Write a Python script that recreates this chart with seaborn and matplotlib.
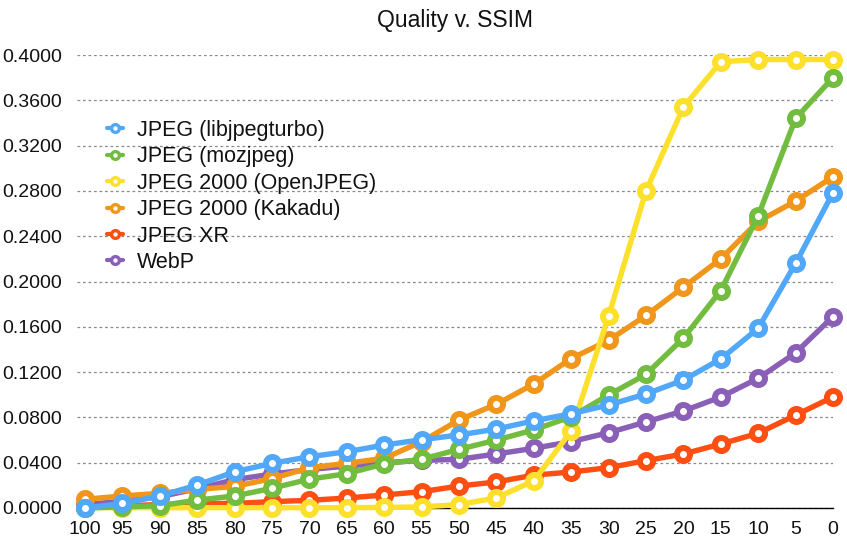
import matplotlib
matplotlib.use("Agg")
import matplotlib.pyplot as plt
import seaborn as sns
import pandas as pd
from matplotlib.lines import Line2D
from matplotlib.ticker import FormatStrFormatter

quality = [100, 95, 90, 85, 80, 75, 70, 65, 60, 55, 50, 45, 40, 35, 30, 25, 20, 15, 10, 5, 0]

libjpegturbo = [0.0, 0.004, 0.0106, 0.0203, 0.032, 0.0394, 0.0453, 0.0497, 0.0556, 0.0603, 0.0645,
                0.0697, 0.077, 0.0832, 0.091, 0.1007, 0.113, 0.1316, 0.1587, 0.216, 0.2784]
mozjpeg = [0.0, 0.001, 0.002, 0.007, 0.0106, 0.0174, 0.0255, 0.0303, 0.039, 0.043, 0.0518,
           0.060, 0.069, 0.0806, 0.0998, 0.118, 0.150, 0.192, 0.258, 0.344, 0.380]
openjpeg = [0.0003, 0.0003, 0.0003, 0.0003, 0.0003, 0.0003, 0.0003, 0.0003, 0.0005, 0.001, 0.003,
            0.009, 0.024, 0.068, 0.1695, 0.280, 0.354, 0.394, 0.396, 0.396, 0.396]
kakadu = [0.0077, 0.0106, 0.013, 0.0165, 0.019, 0.026, 0.0355, 0.0394, 0.0439, 0.0585, 0.0777,
          0.0916, 0.1095, 0.132, 0.148, 0.170, 0.195, 0.220, 0.253, 0.271, 0.2925]
jpegxr = [0.001, 0.002, 0.003, 0.004, 0.004, 0.0056, 0.0068, 0.0088, 0.0115, 0.0144, 0.0194,
          0.023, 0.029, 0.0318, 0.0356, 0.0418, 0.0477, 0.0565, 0.066, 0.082, 0.098]
webp = [0.003, 0.006, 0.010, 0.017, 0.025, 0.030, 0.034, 0.037, 0.040, 0.042, 0.043,
        0.0477, 0.0527, 0.0586, 0.0665, 0.076, 0.0857, 0.098, 0.1145, 0.137, 0.169]

series_names = ["JPEG (libjpegturbo)", "JPEG (mozjpeg)", "JPEG 2000 (OpenJPEG)",
                "JPEG 2000 (Kakadu)", "JPEG XR", "WebP"]
series_values = [libjpegturbo, mozjpeg, openjpeg, kakadu, jpegxr, webp]
colors = ["#52A8F8", "#72BD3F", "#FDE02C", "#F0961B", "#FF4E12", "#8A5FB7"]
y_ticks = [0.0, 0.04, 0.08, 0.12, 0.16, 0.20, 0.24, 0.28, 0.32, 0.36, 0.40]

sns.set_style("white")
plt.rcParams["font.family"] = ["Liberation Sans", "DejaVu Sans"]

fig = plt.figure(figsize=(8.47, 5.42), dpi=100)
ax = fig.add_axes([77 / 847, 1 - 508 / 542, (833 - 77) / 847, (508 - 55) / 542])

rows = []
for name, vals in zip(series_names, series_values):
    for q, v in zip(quality, vals):
        rows.append({"quality": q, "ssim": v, "codec": name})
df = pd.DataFrame(rows)

# draw in reverse so the first series ends on top
for name, color in reversed(list(zip(series_names, colors))):
    sub = df[df["codec"] == name]
    sns.lineplot(data=sub, x="quality", y="ssim", ax=ax, color=color, linewidth=3.9,
                 marker="o", markersize=9.4, markeredgewidth=4.3, markerfacecolor="white",
                 markeredgecolor=color, clip_on=False, legend=False, sort=False, zorder=3)

ax.set_xlim(100 + 8 / 37.4 * 5, 0)
ax.set_ylim(0, 0.4)
ax.set_xticks(quality)
ax.set_xticklabels([str(q) for q in quality])
ax.set_yticks(y_ticks)
ax.yaxis.set_major_formatter(FormatStrFormatter("%.4f"))
ax.set_xlabel("")
ax.set_ylabel("")

ax.grid(axis="y", color="#8a8a8a", linestyle=(0, (2.2, 2.2)), linewidth=0.9)
ax.grid(axis="x", visible=False)
for s in ["top", "right", "left"]:
    ax.spines[s].set_visible(False)
ax.spines["bottom"].set_color("black")
ax.spines["bottom"].set_linewidth(1.0)
ax.spines["bottom"].set_zorder(2)
ax.tick_params(axis="both", length=0, labelsize=14, colors="#111111")
ax.tick_params(axis="y", pad=11)
ax.tick_params(axis="x", pad=9)

ax.set_title("Quality v. SSIM", fontsize=16.5, color="#111111", pad=20)

handles = [Line2D([0], [0], color=c, linewidth=3, marker="o", markersize=5.6,
                  markeredgewidth=2.4, markerfacecolor="white", markeredgecolor=c)
           for c in colors]
leg = fig.legend(handles, series_names, loc="upper left",
                 bbox_to_anchor=(107 / 847, 1 - 120 / 542), bbox_transform=fig.transFigure,
                 frameon=False, fontsize=15.5, handlelength=0.75, handletextpad=0.65,
                 labelspacing=0.25, borderpad=0, borderaxespad=0)
for t in leg.get_texts():
    t.set_color("#111111")

fig.savefig("out.png", dpi=100)
